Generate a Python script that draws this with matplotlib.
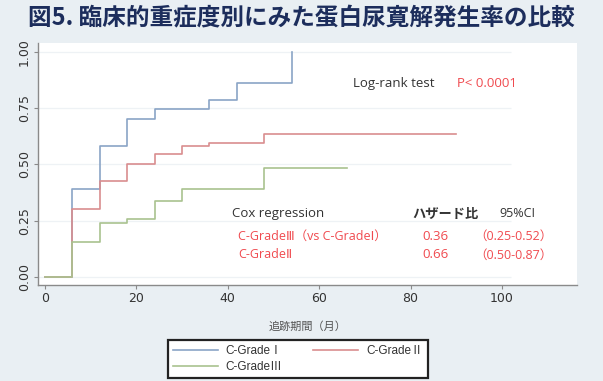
import matplotlib
matplotlib.use("Agg")
import matplotlib.pyplot as plt

plt.rcParams['font.family'] = ['Noto Sans CJK JP', 'DejaVu Sans']

# cumulative remission by clinical grade (step curves)
months_g1 = [0, 6, 12, 18, 24, 36, 42, 54]
rate_g1 = [0.0, 0.39, 0.58, 0.70, 0.745, 0.785, 0.86, 1.0]
months_g2 = [0, 6, 12, 18, 24, 30, 36, 48, 90]
rate_g2 = [0.0, 0.30, 0.425, 0.50, 0.548, 0.58, 0.595, 0.635, 0.635]
months_g3 = [0, 6, 12, 18, 24, 30, 48, 66]
rate_g3 = [0.0, 0.157, 0.24, 0.256, 0.338, 0.39, 0.486, 0.486]

group_labels = ['C-GradeⅠ', 'C-GradeⅡ', 'C-GradeⅢ']
y_ticks = [0.0, 0.25, 0.5, 0.75, 1.0]
x_ticks = [0, 20, 40, 60, 80, 100]

bg = '#e9eff3'
red_txt = '#f04a4f'
dark_txt = '#333333'
ann_font = ['Open Sans', 'DejaVu Sans', 'Noto Sans CJK JP']

fig = plt.figure(figsize=(6.03, 3.81), dpi=100, facecolor=bg)
ax = fig.add_axes([38/603, 96/381, 539/603, 242/381])
ax.set_facecolor('white')
ax.set_xlim(-1.5, 116.4)
ax.set_ylim(-0.036, 1.04)

for y in y_ticks:
    ax.hlines(y, -1.5, 102, color='#eef2f5', lw=0.9, zorder=0)

l1, = ax.step(months_g1, rate_g1, where='post', color='#8aa4c6', lw=1.2)
l2, = ax.step(months_g2, rate_g2, where='post', color='#d98d8f', lw=1.2)
l3, = ax.step(months_g3, rate_g3, where='post', color='#a9c28f', lw=1.2)

for s in ['top', 'right']:
    ax.spines[s].set_visible(False)
for s in ['left', 'bottom']:
    ax.spines[s].set_color('#8a8a8a')
    ax.spines[s].set_linewidth(1.0)

ax.set_yticks(y_ticks)
ax.set_yticklabels([f'{v:.2f}' for v in y_ticks], rotation=90, va='center',
                   family='DejaVu Sans', fontsize=9, color=dark_txt)
ax.set_xticks(x_ticks)
ax.set_xticklabels([str(v) for v in x_ticks], family='DejaVu Sans',
                   fontsize=9, color=dark_txt)
ax.tick_params(length=3, color='#8a8a8a', pad=2)

ax.set_xlabel('追跡期間（月）', fontsize=8, color='#555555', labelpad=12)

# log-rank result
ax.text(67.4, 0.862, 'Log-rank test', fontsize=9.5, color=dark_txt, va='center',
        family=ann_font)
ax.text(90.2, 0.862, 'P< 0.0001', fontsize=9.5, color=red_txt, va='center',
        family=ann_font)

# cox regression table
ax.text(40.9, 0.28, 'Cox regression', fontsize=9.5, color=dark_txt, va='center',
        family=ann_font)
ax.text(80.3, 0.28, 'ハザード比', fontsize=9.5, color=dark_txt, va='center',
        fontweight='bold')
ax.text(99.5, 0.28, '95%CI', fontsize=9, color=dark_txt, va='center',
        family=ann_font)

rows = [('C-GradeⅢ（vs C-GradeⅠ）', '0.36', '（0.25-0.52）', 0.18),
        ('C-GradeⅡ', '0.66', '（0.50-0.87）', 0.098)]
for name, hr, ci, yy in rows:
    ax.text(42.2, yy, name, fontsize=9, color=red_txt, va='center', family=ann_font)
    ax.text(82.5, yy, hr, fontsize=9.5, color=red_txt, va='center', family=ann_font)
    ax.text(94.0, yy, ci, fontsize=9, color=red_txt, va='center', family=ann_font)

fig.text(28/603, 1 - 17/381, '図5. 臨床的重症度別にみた蛋白尿寛解発生率の比較',
         fontsize=17, fontweight='bold', color='#1c2d5c', va='center', ha='left')

# ncol=2 fills column-wise, so order handles to get I, II on the first row
leg = fig.legend([l1, l3, l2], [group_labels[0], group_labels[2], group_labels[1]],
                 loc='upper left', bbox_to_anchor=(168/603, 1 - 340/381, 260/603, 0),
                 mode='expand', borderaxespad=0, ncol=2,
                 prop={'family': ['Liberation Sans', 'Noto Sans CJK JP'], 'size': 8.5},
                 handlelength=3.8, handletextpad=0.7, columnspacing=1.8,
                 labelspacing=0.35, borderpad=0.4, fancybox=False, framealpha=1)
leg.get_frame().set_edgecolor('#222222')
leg.get_frame().set_linewidth(1.6)
for t in leg.get_texts():
    t.set_color(dark_txt)

fig.savefig('out.png', dpi=100, facecolor=bg)
